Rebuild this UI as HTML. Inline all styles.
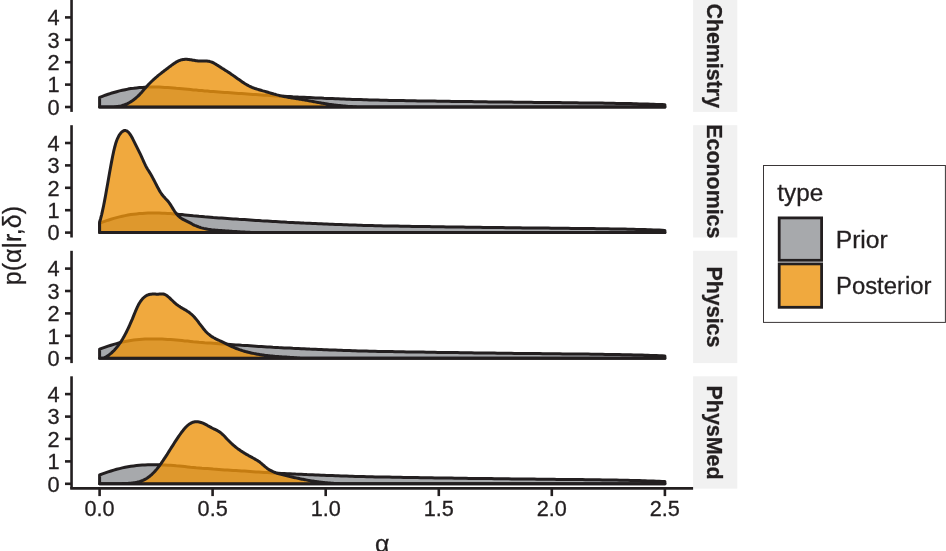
<!DOCTYPE html>
<html lang="en"><head><meta charset="utf-8">
<style>html,body{margin:0;padding:0;background:#fff}svg{display:block}text{font-family:"Liberation Sans",sans-serif;fill:#231f20;stroke:#231f20;stroke-width:0.3px}</style></head><body>
<svg width="946" height="551" viewBox="0 0 946 551">
<rect width="946" height="551" fill="#fff"/>
<rect x="693.1" y="-0.4" width="44.2" height="112.3" fill="#f1f1f1"/>
<text transform="translate(706.80 55.75) rotate(90) scale(0.955 1.000)" text-anchor="middle" font-size="22.4" font-weight="bold">Chemistry</text>
<path d="M99.6 107.0 L99.6 97.4 L102.4 96.3 L105.3 95.2 L108.1 94.3 L111.0 93.3 L113.8 92.5 L116.6 91.7 L119.5 90.9 L122.3 90.3 L125.2 89.7 L128.0 89.1 L130.8 88.6 L133.7 88.3 L136.5 87.9 L139.4 87.6 L142.2 87.4 L145.0 87.2 L147.9 87.1 L150.7 87.1 L153.6 87.1 L156.4 87.1 L159.2 87.1 L162.1 87.2 L164.9 87.4 L167.8 87.5 L170.6 87.7 L173.5 87.9 L176.3 88.2 L179.1 88.4 L182.0 88.7 L184.8 89.0 L187.7 89.3 L190.5 89.6 L193.3 89.9 L196.2 90.1 L199.0 90.4 L201.9 90.6 L204.7 90.9 L207.5 91.1 L210.4 91.4 L213.2 91.6 L216.1 91.8 L218.9 92.0 L221.7 92.2 L224.6 92.4 L227.4 92.6 L230.3 92.8 L233.1 93.0 L235.9 93.2 L238.8 93.4 L241.6 93.6 L244.5 93.8 L247.3 94.0 L250.1 94.2 L253.0 94.4 L255.8 94.6 L258.7 94.8 L261.5 95.0 L264.3 95.2 L267.2 95.3 L270.0 95.5 L272.9 95.7 L275.7 95.9 L278.5 96.0 L281.4 96.2 L284.2 96.3 L287.1 96.5 L289.9 96.6 L292.8 96.8 L295.6 96.9 L298.4 97.1 L301.3 97.2 L304.1 97.3 L307.0 97.5 L309.8 97.6 L312.6 97.7 L315.5 97.9 L318.3 98.0 L321.2 98.1 L324.0 98.3 L326.8 98.4 L329.7 98.5 L332.5 98.6 L335.4 98.7 L338.2 98.8 L341.0 98.9 L343.9 99.0 L346.7 99.2 L349.6 99.3 L352.4 99.4 L355.2 99.5 L358.1 99.6 L360.9 99.6 L363.8 99.7 L366.6 99.8 L369.4 99.9 L372.3 100.0 L375.1 100.1 L378.0 100.1 L380.8 100.2 L383.6 100.3 L386.5 100.3 L389.3 100.4 L392.2 100.4 L395.0 100.5 L397.8 100.5 L400.7 100.6 L403.5 100.6 L406.4 100.7 L409.2 100.7 L412.0 100.8 L414.9 100.8 L417.7 100.9 L420.6 100.9 L423.4 100.9 L426.3 101.0 L429.1 101.0 L431.9 101.1 L434.8 101.1 L437.6 101.2 L440.5 101.2 L443.3 101.2 L446.1 101.3 L449.0 101.3 L451.8 101.4 L454.7 101.4 L457.5 101.4 L460.3 101.5 L463.2 101.5 L466.0 101.6 L468.9 101.6 L471.7 101.6 L474.5 101.7 L477.4 101.7 L480.2 101.7 L483.1 101.8 L485.9 101.8 L488.7 101.9 L491.6 101.9 L494.4 101.9 L497.3 102.0 L500.1 102.0 L502.9 102.0 L505.8 102.1 L508.6 102.1 L511.5 102.1 L514.3 102.2 L517.1 102.2 L520.0 102.2 L522.8 102.3 L525.7 102.3 L528.5 102.3 L531.3 102.3 L534.2 102.4 L537.0 102.4 L539.9 102.4 L542.7 102.5 L545.6 102.5 L548.4 102.5 L551.2 102.6 L554.1 102.6 L556.9 102.6 L559.8 102.6 L562.6 102.7 L565.4 102.7 L568.3 102.7 L571.1 102.8 L574.0 102.8 L576.8 102.8 L579.6 102.9 L582.5 102.9 L585.3 102.9 L588.2 102.9 L591.0 103.0 L593.8 103.0 L596.7 103.1 L599.5 103.1 L602.4 103.1 L605.2 103.2 L608.0 103.2 L610.9 103.3 L613.7 103.3 L616.6 103.4 L619.4 103.4 L622.2 103.5 L625.1 103.5 L627.9 103.6 L630.8 103.6 L633.6 103.7 L636.4 103.8 L639.3 103.9 L642.1 103.9 L645.0 104.0 L647.8 104.1 L650.6 104.2 L653.5 104.3 L656.3 104.4 L659.2 104.5 L662.0 104.6 L664.9 104.8 L664.9 107.0 Z" fill="#a7a9ac" stroke="#231f20" stroke-width="3.0" stroke-linejoin="round"/>
<path d="M99.6 107.0 L110.0 107.0 L111.0 107.0 L112.0 107.0 L113.0 106.9 L114.0 106.9 L115.0 106.8 L116.0 106.7 L117.0 106.6 L118.0 106.5 L119.0 106.3 L120.0 106.1 L121.0 105.9 L122.0 105.6 L123.0 105.3 L124.0 105.0 L125.0 104.6 L126.0 104.2 L127.0 103.8 L128.0 103.3 L129.0 102.8 L130.0 102.2 L131.0 101.6 L132.0 101.0 L133.0 100.3 L134.0 99.5 L135.0 98.8 L136.0 97.9 L137.0 97.0 L138.0 96.1 L139.0 95.1 L140.0 94.1 L141.0 93.0 L142.0 91.9 L143.0 90.7 L144.0 89.6 L145.0 88.4 L146.0 87.3 L147.0 86.2 L148.0 85.1 L149.0 84.0 L150.0 83.0 L151.0 82.0 L152.0 81.0 L153.0 80.1 L154.0 79.2 L155.0 78.3 L156.0 77.4 L157.0 76.6 L158.0 75.7 L159.0 74.9 L160.0 74.1 L161.0 73.3 L162.0 72.5 L163.0 71.8 L164.0 71.0 L165.0 70.2 L166.0 69.5 L167.0 68.7 L168.0 68.0 L169.0 67.2 L170.0 66.4 L171.0 65.7 L172.0 64.9 L173.0 64.2 L174.0 63.5 L175.0 62.9 L176.0 62.2 L177.0 61.7 L178.0 61.1 L179.0 60.7 L180.0 60.3 L181.0 59.9 L182.0 59.7 L183.0 59.5 L184.0 59.4 L185.0 59.3 L186.0 59.3 L187.0 59.3 L188.0 59.4 L189.0 59.5 L190.0 59.7 L191.0 59.8 L192.0 60.0 L193.0 60.2 L194.0 60.3 L195.0 60.5 L196.0 60.7 L197.0 60.8 L198.0 60.9 L199.0 60.9 L200.0 61.0 L201.0 61.0 L202.0 61.0 L203.0 61.0 L204.0 61.0 L205.0 61.0 L206.0 61.0 L207.0 61.1 L208.0 61.2 L209.0 61.3 L210.0 61.6 L211.0 61.9 L212.0 62.2 L213.0 62.7 L214.0 63.2 L215.0 63.8 L216.0 64.4 L217.0 65.0 L218.0 65.6 L219.0 66.3 L220.0 66.9 L221.0 67.5 L222.0 68.2 L223.0 68.8 L224.0 69.4 L225.0 70.1 L226.0 70.7 L227.0 71.3 L228.0 72.0 L229.0 72.6 L230.0 73.3 L231.0 74.0 L232.0 74.7 L233.0 75.3 L234.0 76.1 L235.0 76.8 L236.0 77.5 L237.0 78.2 L238.0 78.9 L239.0 79.6 L240.0 80.3 L241.0 81.0 L242.0 81.7 L243.0 82.4 L244.0 83.0 L245.0 83.7 L246.0 84.3 L247.0 84.9 L248.0 85.4 L249.0 86.0 L250.0 86.5 L251.0 86.9 L252.0 87.4 L253.0 87.8 L254.0 88.1 L255.0 88.5 L256.0 88.8 L257.0 89.1 L258.0 89.4 L259.0 89.7 L260.0 90.0 L261.0 90.3 L262.0 90.6 L263.0 90.9 L264.0 91.1 L265.0 91.4 L266.0 91.7 L267.0 92.0 L268.0 92.3 L269.0 92.6 L270.0 92.9 L271.0 93.2 L272.0 93.5 L273.0 93.8 L274.0 94.1 L275.0 94.3 L276.0 94.6 L277.0 94.9 L278.0 95.1 L279.0 95.4 L280.0 95.7 L281.0 95.9 L282.0 96.1 L283.0 96.3 L284.0 96.6 L285.0 96.7 L286.0 96.9 L287.0 97.1 L288.0 97.3 L289.0 97.5 L290.0 97.6 L291.0 97.8 L292.0 97.9 L293.0 98.1 L294.0 98.2 L295.0 98.4 L296.0 98.5 L297.0 98.7 L298.0 98.8 L299.0 99.0 L300.0 99.2 L301.0 99.3 L302.0 99.5 L303.0 99.7 L304.0 99.8 L305.0 100.0 L306.0 100.2 L307.0 100.4 L308.0 100.6 L309.0 100.8 L310.0 100.9 L311.0 101.1 L312.0 101.3 L313.0 101.5 L314.0 101.7 L315.0 101.9 L316.0 102.1 L317.0 102.3 L318.0 102.4 L319.0 102.6 L320.0 102.8 L321.0 103.0 L322.0 103.2 L323.0 103.3 L324.0 103.5 L325.0 103.6 L326.0 103.8 L327.0 104.0 L328.0 104.1 L329.0 104.3 L330.0 104.4 L331.0 104.5 L332.0 104.7 L333.0 104.8 L334.0 104.9 L335.0 105.1 L336.0 105.2 L337.0 105.3 L338.0 105.4 L339.0 105.5 L340.0 105.6 L341.0 105.7 L342.0 105.8 L343.0 105.9 L344.0 106.0 L345.0 106.1 L346.0 106.2 L347.0 106.3 L348.0 106.4 L349.0 106.4 L350.0 106.5 L351.0 106.6 L352.0 106.6 L353.0 106.7 L354.0 106.7 L355.0 106.8 L356.0 106.8 L357.0 106.9 L358.0 106.9 L359.0 107.0 L360.0 107.0 L360.0 107.0 L664.9 107.0 Z" fill="#ec940e" fill-opacity="0.8" stroke="#231f20" stroke-width="3.0" stroke-linejoin="round"/>
<line x1="71.55" y1="-0.4" x2="71.55" y2="111.9" stroke="#231f20" stroke-width="2.6"/>
<line x1="65" y1="107.0" x2="71.5" y2="107.0" stroke="#231f20" stroke-width="2.6"/>
<text transform="translate(59.60 114.80) scale(0.990 1.000)" text-anchor="end" font-size="22">0</text>
<line x1="65" y1="84.6" x2="71.5" y2="84.6" stroke="#231f20" stroke-width="2.6"/>
<text transform="translate(59.60 92.40) scale(0.990 1.000)" text-anchor="end" font-size="22">1</text>
<line x1="65" y1="62.2" x2="71.5" y2="62.2" stroke="#231f20" stroke-width="2.6"/>
<text transform="translate(59.60 70.00) scale(0.990 1.000)" text-anchor="end" font-size="22">2</text>
<line x1="65" y1="39.8" x2="71.5" y2="39.8" stroke="#231f20" stroke-width="2.6"/>
<text transform="translate(59.60 47.60) scale(0.990 1.000)" text-anchor="end" font-size="22">3</text>
<line x1="65" y1="17.4" x2="71.5" y2="17.4" stroke="#231f20" stroke-width="2.6"/>
<text transform="translate(59.60 25.20) scale(0.990 1.000)" text-anchor="end" font-size="22">4</text>
<rect x="693.1" y="125.2" width="44.2" height="112.3" fill="#f1f1f1"/>
<text transform="translate(706.80 181.35) rotate(90) scale(0.955 1.000)" text-anchor="middle" font-size="22.4" font-weight="bold">Economics</text>
<path d="M99.6 232.6 L99.6 223.3 L102.4 222.2 L105.3 221.2 L108.1 220.2 L111.0 219.3 L113.8 218.4 L116.6 217.6 L119.5 216.9 L122.3 216.2 L125.2 215.6 L128.0 215.0 L130.8 214.6 L133.7 214.2 L136.5 213.9 L139.4 213.6 L142.2 213.4 L145.0 213.2 L147.9 213.1 L150.7 213.1 L153.6 213.0 L156.4 213.0 L159.2 213.1 L162.1 213.2 L164.9 213.3 L167.8 213.5 L170.6 213.6 L173.5 213.9 L176.3 214.1 L179.1 214.4 L182.0 214.6 L184.8 214.9 L187.7 215.2 L190.5 215.5 L193.3 215.8 L196.2 216.0 L199.0 216.3 L201.9 216.5 L204.7 216.8 L207.5 217.0 L210.4 217.2 L213.2 217.5 L216.1 217.7 L218.9 217.9 L221.7 218.1 L224.6 218.3 L227.4 218.5 L230.3 218.7 L233.1 218.9 L235.9 219.1 L238.8 219.3 L241.6 219.4 L244.5 219.6 L247.3 219.8 L250.1 220.0 L253.0 220.2 L255.8 220.4 L258.7 220.6 L261.5 220.8 L264.3 220.9 L267.2 221.1 L270.0 221.3 L272.9 221.5 L275.7 221.6 L278.5 221.8 L281.4 222.0 L284.2 222.1 L287.1 222.3 L289.9 222.4 L292.8 222.5 L295.6 222.7 L298.4 222.8 L301.3 222.9 L304.1 223.1 L307.0 223.2 L309.8 223.3 L312.6 223.5 L315.5 223.6 L318.3 223.7 L321.2 223.8 L324.0 224.0 L326.8 224.1 L329.7 224.2 L332.5 224.3 L335.4 224.4 L338.2 224.5 L341.0 224.6 L343.9 224.7 L346.7 224.8 L349.6 224.9 L352.4 225.0 L355.2 225.1 L358.1 225.2 L360.9 225.3 L363.8 225.4 L366.6 225.5 L369.4 225.5 L372.3 225.6 L375.1 225.7 L378.0 225.8 L380.8 225.8 L383.6 225.9 L386.5 225.9 L389.3 226.0 L392.2 226.0 L395.0 226.1 L397.8 226.1 L400.7 226.2 L403.5 226.2 L406.4 226.3 L409.2 226.3 L412.0 226.4 L414.9 226.4 L417.7 226.5 L420.6 226.5 L423.4 226.5 L426.3 226.6 L429.1 226.6 L431.9 226.7 L434.8 226.7 L437.6 226.8 L440.5 226.8 L443.3 226.8 L446.1 226.9 L449.0 226.9 L451.8 227.0 L454.7 227.0 L457.5 227.0 L460.3 227.1 L463.2 227.1 L466.0 227.2 L468.9 227.2 L471.7 227.2 L474.5 227.3 L477.4 227.3 L480.2 227.3 L483.1 227.4 L485.9 227.4 L488.7 227.5 L491.6 227.5 L494.4 227.5 L497.3 227.6 L500.1 227.6 L502.9 227.6 L505.8 227.7 L508.6 227.7 L511.5 227.7 L514.3 227.8 L517.1 227.8 L520.0 227.8 L522.8 227.9 L525.7 227.9 L528.5 227.9 L531.3 227.9 L534.2 228.0 L537.0 228.0 L539.9 228.0 L542.7 228.1 L545.6 228.1 L548.4 228.1 L551.2 228.2 L554.1 228.2 L556.9 228.2 L559.8 228.2 L562.6 228.3 L565.4 228.3 L568.3 228.3 L571.1 228.4 L574.0 228.4 L576.8 228.4 L579.6 228.5 L582.5 228.5 L585.3 228.5 L588.2 228.5 L591.0 228.6 L593.8 228.6 L596.7 228.7 L599.5 228.7 L602.4 228.7 L605.2 228.8 L608.0 228.8 L610.9 228.9 L613.7 228.9 L616.6 229.0 L619.4 229.0 L622.2 229.1 L625.1 229.1 L627.9 229.2 L630.8 229.2 L633.6 229.3 L636.4 229.4 L639.3 229.5 L642.1 229.5 L645.0 229.6 L647.8 229.7 L650.6 229.8 L653.5 229.9 L656.3 230.0 L659.2 230.1 L662.0 230.2 L664.9 230.4 L664.9 232.6 Z" fill="#a7a9ac" stroke="#231f20" stroke-width="3.0" stroke-linejoin="round"/>
<path d="M99.6 232.6 L99.6 222.0 L100.6 218.7 L101.6 214.8 L102.6 210.4 L103.6 205.7 L104.6 200.6 L105.6 195.2 L106.6 189.6 L107.6 183.9 L108.6 178.2 L109.6 172.5 L110.6 166.9 L111.6 161.6 L112.6 156.5 L113.6 151.7 L114.6 147.5 L115.6 143.8 L116.6 140.8 L117.6 138.3 L118.6 136.3 L119.6 134.6 L120.6 133.3 L121.6 132.1 L122.6 131.3 L123.6 130.8 L124.6 130.5 L125.6 130.6 L126.6 130.9 L127.6 131.5 L128.6 132.4 L129.6 133.6 L130.6 135.1 L131.6 136.8 L132.6 138.6 L133.6 140.6 L134.6 142.6 L135.6 144.7 L136.6 146.7 L137.6 148.7 L138.6 150.7 L139.6 152.7 L140.6 154.7 L141.6 156.8 L142.6 159.0 L143.6 161.3 L144.6 163.5 L145.6 165.6 L146.6 167.5 L147.6 169.2 L148.6 170.8 L149.6 172.4 L150.6 174.0 L151.6 175.7 L152.6 177.6 L153.6 179.5 L154.6 181.4 L155.6 183.4 L156.6 185.3 L157.6 187.3 L158.6 189.1 L159.6 190.9 L160.6 192.5 L161.6 194.0 L162.6 195.3 L163.6 196.5 L164.6 197.6 L165.6 198.7 L166.6 199.7 L167.6 200.8 L168.6 202.0 L169.6 203.4 L170.6 204.9 L171.6 206.5 L172.6 208.1 L173.6 209.7 L174.6 211.3 L175.6 212.7 L176.6 214.0 L177.6 215.1 L178.6 216.1 L179.6 217.0 L180.6 217.8 L181.6 218.5 L182.6 219.1 L183.6 219.7 L184.6 220.2 L185.6 220.7 L186.6 221.2 L187.6 221.7 L188.6 222.2 L189.6 222.7 L190.6 223.2 L191.6 223.7 L192.6 224.3 L193.6 224.8 L194.6 225.3 L195.6 225.7 L196.6 226.1 L197.6 226.5 L198.6 226.9 L199.6 227.2 L200.6 227.6 L201.6 227.9 L202.6 228.1 L203.6 228.4 L204.6 228.6 L205.6 228.8 L206.6 229.0 L207.6 229.2 L208.6 229.4 L209.6 229.5 L210.6 229.6 L211.6 229.8 L212.6 229.9 L213.6 230.0 L214.6 230.1 L215.6 230.2 L216.6 230.2 L217.6 230.3 L218.6 230.4 L219.6 230.5 L220.6 230.5 L221.6 230.6 L222.6 230.7 L223.6 230.7 L224.6 230.8 L225.6 230.9 L226.6 231.0 L227.6 231.0 L228.6 231.1 L229.6 231.2 L230.6 231.2 L231.6 231.3 L232.6 231.4 L233.6 231.5 L234.6 231.5 L235.6 231.6 L236.6 231.6 L237.6 231.7 L238.6 231.8 L239.6 231.8 L240.6 231.9 L241.6 232.0 L242.6 232.0 L243.6 232.1 L244.6 232.1 L245.6 232.2 L246.6 232.2 L247.6 232.2 L248.6 232.3 L249.6 232.3 L250.6 232.4 L251.6 232.4 L252.6 232.4 L253.6 232.4 L254.6 232.5 L255.6 232.5 L256.0 232.6 L664.9 232.6 Z" fill="#ec940e" fill-opacity="0.8" stroke="#231f20" stroke-width="3.0" stroke-linejoin="round"/>
<line x1="71.55" y1="125.2" x2="71.55" y2="237.5" stroke="#231f20" stroke-width="2.6"/>
<line x1="65" y1="232.6" x2="71.5" y2="232.6" stroke="#231f20" stroke-width="2.6"/>
<text transform="translate(59.60 240.40) scale(0.990 1.000)" text-anchor="end" font-size="22">0</text>
<line x1="65" y1="210.2" x2="71.5" y2="210.2" stroke="#231f20" stroke-width="2.6"/>
<text transform="translate(59.60 218.00) scale(0.990 1.000)" text-anchor="end" font-size="22">1</text>
<line x1="65" y1="187.8" x2="71.5" y2="187.8" stroke="#231f20" stroke-width="2.6"/>
<text transform="translate(59.60 195.60) scale(0.990 1.000)" text-anchor="end" font-size="22">2</text>
<line x1="65" y1="165.4" x2="71.5" y2="165.4" stroke="#231f20" stroke-width="2.6"/>
<text transform="translate(59.60 173.20) scale(0.990 1.000)" text-anchor="end" font-size="22">3</text>
<line x1="65" y1="143.0" x2="71.5" y2="143.0" stroke="#231f20" stroke-width="2.6"/>
<text transform="translate(59.60 150.80) scale(0.990 1.000)" text-anchor="end" font-size="22">4</text>
<rect x="693.1" y="250.8" width="44.2" height="112.3" fill="#f1f1f1"/>
<text transform="translate(706.80 306.95) rotate(90) scale(0.955 1.000)" text-anchor="middle" font-size="22.4" font-weight="bold">Physics</text>
<path d="M99.6 358.2 L99.6 349.2 L102.4 348.1 L105.3 347.1 L108.1 346.1 L111.0 345.2 L113.8 344.4 L116.6 343.6 L119.5 342.8 L122.3 342.1 L125.2 341.5 L128.0 341.0 L130.8 340.5 L133.7 340.1 L136.5 339.8 L139.4 339.5 L142.2 339.3 L145.0 339.1 L147.9 339.0 L150.7 339.0 L153.6 339.0 L156.4 339.0 L159.2 339.0 L162.1 339.1 L164.9 339.2 L167.8 339.4 L170.6 339.6 L173.5 339.8 L176.3 340.0 L179.1 340.3 L182.0 340.6 L184.8 340.9 L187.7 341.1 L190.5 341.4 L193.3 341.7 L196.2 341.9 L199.0 342.2 L201.9 342.4 L204.7 342.7 L207.5 342.9 L210.4 343.1 L213.2 343.3 L216.1 343.5 L218.9 343.7 L221.7 343.9 L224.6 344.1 L227.4 344.3 L230.3 344.5 L233.1 344.7 L235.9 344.9 L238.8 345.1 L241.6 345.3 L244.5 345.4 L247.3 345.6 L250.1 345.8 L253.0 346.0 L255.8 346.2 L258.7 346.4 L261.5 346.5 L264.3 346.7 L267.2 346.9 L270.0 347.1 L272.9 347.3 L275.7 347.4 L278.5 347.6 L281.4 347.7 L284.2 347.9 L287.1 348.0 L289.9 348.1 L292.8 348.3 L295.6 348.4 L298.4 348.5 L301.3 348.7 L304.1 348.8 L307.0 348.9 L309.8 349.1 L312.6 349.2 L315.5 349.3 L318.3 349.4 L321.2 349.5 L324.0 349.7 L326.8 349.8 L329.7 349.9 L332.5 350.0 L335.4 350.1 L338.2 350.2 L341.0 350.3 L343.9 350.4 L346.7 350.5 L349.6 350.6 L352.4 350.7 L355.2 350.8 L358.1 350.9 L360.9 350.9 L363.8 351.0 L366.6 351.1 L369.4 351.2 L372.3 351.3 L375.1 351.3 L378.0 351.4 L380.8 351.4 L383.6 351.5 L386.5 351.5 L389.3 351.6 L392.2 351.6 L395.0 351.7 L397.8 351.7 L400.7 351.8 L403.5 351.8 L406.4 351.9 L409.2 351.9 L412.0 352.0 L414.9 352.0 L417.7 352.1 L420.6 352.1 L423.4 352.1 L426.3 352.2 L429.1 352.2 L431.9 352.3 L434.8 352.3 L437.6 352.4 L440.5 352.4 L443.3 352.4 L446.1 352.5 L449.0 352.5 L451.8 352.6 L454.7 352.6 L457.5 352.6 L460.3 352.7 L463.2 352.7 L466.0 352.8 L468.9 352.8 L471.7 352.8 L474.5 352.9 L477.4 352.9 L480.2 352.9 L483.1 353.0 L485.9 353.0 L488.7 353.1 L491.6 353.1 L494.4 353.1 L497.3 353.2 L500.1 353.2 L502.9 353.2 L505.8 353.3 L508.6 353.3 L511.5 353.3 L514.3 353.4 L517.1 353.4 L520.0 353.4 L522.8 353.5 L525.7 353.5 L528.5 353.5 L531.3 353.5 L534.2 353.6 L537.0 353.6 L539.9 353.6 L542.7 353.7 L545.6 353.7 L548.4 353.7 L551.2 353.8 L554.1 353.8 L556.9 353.8 L559.8 353.8 L562.6 353.9 L565.4 353.9 L568.3 353.9 L571.1 354.0 L574.0 354.0 L576.8 354.0 L579.6 354.1 L582.5 354.1 L585.3 354.1 L588.2 354.1 L591.0 354.2 L593.8 354.2 L596.7 354.3 L599.5 354.3 L602.4 354.3 L605.2 354.4 L608.0 354.4 L610.9 354.5 L613.7 354.5 L616.6 354.6 L619.4 354.6 L622.2 354.7 L625.1 354.7 L627.9 354.8 L630.8 354.8 L633.6 354.9 L636.4 355.0 L639.3 355.1 L642.1 355.1 L645.0 355.2 L647.8 355.3 L650.6 355.4 L653.5 355.5 L656.3 355.6 L659.2 355.7 L662.0 355.8 L664.9 356.0 L664.9 358.2 Z" fill="#a7a9ac" stroke="#231f20" stroke-width="3.0" stroke-linejoin="round"/>
<path d="M99.6 358.2 L103.3 358.2 L104.3 357.9 L105.3 357.3 L106.3 356.7 L107.3 356.1 L108.3 355.4 L109.3 354.7 L110.3 353.9 L111.3 353.1 L112.3 352.1 L113.3 351.2 L114.3 350.2 L115.3 349.1 L116.3 347.9 L117.3 346.7 L118.3 345.4 L119.3 344.0 L120.3 342.6 L121.3 341.1 L122.3 339.5 L123.3 337.8 L124.3 336.0 L125.3 334.1 L126.3 332.2 L127.3 330.2 L128.3 328.1 L129.3 326.0 L130.3 323.7 L131.3 321.4 L132.3 319.1 L133.3 316.6 L134.3 314.2 L135.3 311.7 L136.3 309.4 L137.3 307.2 L138.3 305.1 L139.3 303.3 L140.3 301.7 L141.3 300.3 L142.3 299.1 L143.3 298.0 L144.3 297.1 L145.3 296.3 L146.3 295.7 L147.3 295.2 L148.3 294.8 L149.3 294.5 L150.3 294.3 L151.3 294.2 L152.3 294.1 L153.3 294.1 L154.3 294.1 L155.3 294.1 L156.3 294.2 L157.3 294.2 L158.3 294.2 L159.3 294.1 L160.3 294.0 L161.3 294.0 L162.3 294.0 L163.3 294.0 L164.3 294.3 L165.3 294.7 L166.3 295.3 L167.3 296.0 L168.3 296.8 L169.3 297.6 L170.3 298.6 L171.3 299.6 L172.3 300.5 L173.3 301.5 L174.3 302.5 L175.3 303.3 L176.3 304.2 L177.3 304.9 L178.3 305.7 L179.3 306.3 L180.3 307.0 L181.3 307.6 L182.3 308.2 L183.3 308.8 L184.3 309.4 L185.3 309.9 L186.3 310.5 L187.3 311.2 L188.3 311.8 L189.3 312.5 L190.3 313.3 L191.3 314.1 L192.3 315.0 L193.3 316.0 L194.3 317.0 L195.3 318.2 L196.3 319.4 L197.3 320.6 L198.3 321.9 L199.3 323.3 L200.3 324.6 L201.3 325.9 L202.3 327.2 L203.3 328.5 L204.3 329.7 L205.3 330.9 L206.3 332.0 L207.3 333.0 L208.3 333.9 L209.3 334.7 L210.3 335.5 L211.3 336.2 L212.3 336.9 L213.3 337.5 L214.3 338.0 L215.3 338.6 L216.3 339.1 L217.3 339.6 L218.3 340.0 L219.3 340.5 L220.3 341.0 L221.3 341.4 L222.3 341.9 L223.3 342.4 L224.3 342.9 L225.3 343.4 L226.3 343.9 L227.3 344.4 L228.3 344.9 L229.3 345.4 L230.3 345.9 L231.3 346.4 L232.3 346.8 L233.3 347.2 L234.3 347.7 L235.3 348.1 L236.3 348.5 L237.3 348.8 L238.3 349.2 L239.3 349.6 L240.3 349.9 L241.3 350.2 L242.3 350.6 L243.3 350.9 L244.3 351.2 L245.3 351.5 L246.3 351.7 L247.3 352.0 L248.3 352.3 L249.3 352.5 L250.3 352.7 L251.3 353.0 L252.3 353.2 L253.3 353.4 L254.3 353.6 L255.3 353.8 L256.3 354.0 L257.3 354.2 L258.3 354.3 L259.3 354.5 L260.3 354.7 L261.3 354.8 L262.3 355.0 L263.3 355.1 L264.3 355.2 L265.3 355.4 L266.3 355.5 L267.3 355.6 L268.3 355.7 L269.3 355.8 L270.3 355.9 L271.3 356.0 L272.3 356.1 L273.3 356.2 L274.3 356.3 L275.3 356.4 L276.3 356.4 L277.3 356.5 L278.3 356.6 L279.3 356.7 L280.3 356.7 L281.3 356.8 L282.3 356.9 L283.3 356.9 L284.3 357.0 L285.3 357.1 L286.3 357.1 L287.3 357.2 L288.3 357.3 L289.3 357.3 L290.3 357.4 L291.3 357.5 L292.3 357.5 L293.3 357.6 L294.3 357.7 L295.3 357.7 L296.3 357.8 L297.3 357.9 L298.3 357.9 L299.3 358.0 L300.0 358.2 L664.9 358.2 Z" fill="#ec940e" fill-opacity="0.8" stroke="#231f20" stroke-width="3.0" stroke-linejoin="round"/>
<line x1="71.55" y1="250.8" x2="71.55" y2="363.1" stroke="#231f20" stroke-width="2.6"/>
<line x1="65" y1="358.2" x2="71.5" y2="358.2" stroke="#231f20" stroke-width="2.6"/>
<text transform="translate(59.60 366.00) scale(0.990 1.000)" text-anchor="end" font-size="22">0</text>
<line x1="65" y1="335.8" x2="71.5" y2="335.8" stroke="#231f20" stroke-width="2.6"/>
<text transform="translate(59.60 343.60) scale(0.990 1.000)" text-anchor="end" font-size="22">1</text>
<line x1="65" y1="313.4" x2="71.5" y2="313.4" stroke="#231f20" stroke-width="2.6"/>
<text transform="translate(59.60 321.20) scale(0.990 1.000)" text-anchor="end" font-size="22">2</text>
<line x1="65" y1="291.0" x2="71.5" y2="291.0" stroke="#231f20" stroke-width="2.6"/>
<text transform="translate(59.60 298.80) scale(0.990 1.000)" text-anchor="end" font-size="22">3</text>
<line x1="65" y1="268.6" x2="71.5" y2="268.6" stroke="#231f20" stroke-width="2.6"/>
<text transform="translate(59.60 276.40) scale(0.990 1.000)" text-anchor="end" font-size="22">4</text>
<rect x="693.1" y="376.3" width="44.2" height="112.3" fill="#f1f1f1"/>
<text transform="translate(706.80 432.50) rotate(90) scale(0.955 1.000)" text-anchor="middle" font-size="22.4" font-weight="bold">PhysMed</text>
<path d="M99.6 483.8 L99.6 475.0 L102.4 473.9 L105.3 472.9 L108.1 471.9 L111.0 471.0 L113.8 470.1 L116.6 469.3 L119.5 468.6 L122.3 467.9 L125.2 467.3 L128.0 466.8 L130.8 466.3 L133.7 465.9 L136.5 465.6 L139.4 465.3 L142.2 465.1 L145.0 464.9 L147.9 464.8 L150.7 464.8 L153.6 464.8 L156.4 464.8 L159.2 464.8 L162.1 464.9 L164.9 465.0 L167.8 465.2 L170.6 465.3 L173.5 465.5 L176.3 465.8 L179.1 466.0 L182.0 466.3 L184.8 466.6 L187.7 466.9 L190.5 467.2 L193.3 467.4 L196.2 467.7 L199.0 467.9 L201.9 468.2 L204.7 468.4 L207.5 468.6 L210.4 468.8 L213.2 469.1 L216.1 469.3 L218.9 469.5 L221.7 469.7 L224.6 469.9 L227.4 470.0 L230.3 470.2 L233.1 470.4 L235.9 470.6 L238.8 470.8 L241.6 471.0 L244.5 471.1 L247.3 471.3 L250.1 471.5 L253.0 471.7 L255.8 471.9 L258.7 472.0 L261.5 472.2 L264.3 472.4 L267.2 472.6 L270.0 472.8 L272.9 472.9 L275.7 473.1 L278.5 473.2 L281.4 473.4 L284.2 473.5 L287.1 473.7 L289.9 473.8 L292.8 473.9 L295.6 474.1 L298.4 474.2 L301.3 474.3 L304.1 474.4 L307.0 474.6 L309.8 474.7 L312.6 474.8 L315.5 474.9 L318.3 475.0 L321.2 475.2 L324.0 475.3 L326.8 475.4 L329.7 475.5 L332.5 475.6 L335.4 475.7 L338.2 475.8 L341.0 475.9 L343.9 476.0 L346.7 476.1 L349.6 476.2 L352.4 476.3 L355.2 476.4 L358.1 476.4 L360.9 476.5 L363.8 476.6 L366.6 476.7 L369.4 476.8 L372.3 476.8 L375.1 476.9 L378.0 476.9 L380.8 477.0 L383.6 477.1 L386.5 477.1 L389.3 477.1 L392.2 477.2 L395.0 477.2 L397.8 477.3 L400.7 477.3 L403.5 477.4 L406.4 477.4 L409.2 477.5 L412.0 477.5 L414.9 477.6 L417.7 477.6 L420.6 477.7 L423.4 477.7 L426.3 477.7 L429.1 477.8 L431.9 477.8 L434.8 477.9 L437.6 477.9 L440.5 478.0 L443.3 478.0 L446.1 478.0 L449.0 478.1 L451.8 478.1 L454.7 478.2 L457.5 478.2 L460.3 478.2 L463.2 478.3 L466.0 478.3 L468.9 478.4 L471.7 478.4 L474.5 478.4 L477.4 478.5 L480.2 478.5 L483.1 478.5 L485.9 478.6 L488.7 478.6 L491.6 478.6 L494.4 478.7 L497.3 478.7 L500.1 478.7 L502.9 478.8 L505.8 478.8 L508.6 478.8 L511.5 478.9 L514.3 478.9 L517.1 478.9 L520.0 479.0 L522.8 479.0 L525.7 479.0 L528.5 479.1 L531.3 479.1 L534.2 479.1 L537.0 479.2 L539.9 479.2 L542.7 479.2 L545.6 479.2 L548.4 479.3 L551.2 479.3 L554.1 479.3 L556.9 479.4 L559.8 479.4 L562.6 479.4 L565.4 479.5 L568.3 479.5 L571.1 479.5 L574.0 479.5 L576.8 479.6 L579.6 479.6 L582.5 479.6 L585.3 479.7 L588.2 479.7 L591.0 479.7 L593.8 479.8 L596.7 479.8 L599.5 479.8 L602.4 479.9 L605.2 479.9 L608.0 480.0 L610.9 480.0 L613.7 480.1 L616.6 480.1 L619.4 480.2 L622.2 480.2 L625.1 480.3 L627.9 480.3 L630.8 480.4 L633.6 480.5 L636.4 480.5 L639.3 480.6 L642.1 480.7 L645.0 480.8 L647.8 480.9 L650.6 481.0 L653.5 481.1 L656.3 481.2 L659.2 481.3 L662.0 481.4 L664.9 481.5 L664.9 483.8 Z" fill="#a7a9ac" stroke="#231f20" stroke-width="3.0" stroke-linejoin="round"/>
<path d="M99.6 483.8 L121.0 483.8 L122.0 483.6 L123.0 483.6 L124.0 483.6 L125.0 483.5 L126.0 483.5 L127.0 483.5 L128.0 483.4 L129.0 483.3 L130.0 483.3 L131.0 483.2 L132.0 483.1 L133.0 483.0 L134.0 482.8 L135.0 482.7 L136.0 482.5 L137.0 482.3 L138.0 482.0 L139.0 481.8 L140.0 481.5 L141.0 481.1 L142.0 480.7 L143.0 480.3 L144.0 479.8 L145.0 479.3 L146.0 478.8 L147.0 478.2 L148.0 477.5 L149.0 476.8 L150.0 476.0 L151.0 475.2 L152.0 474.3 L153.0 473.3 L154.0 472.3 L155.0 471.2 L156.0 470.1 L157.0 468.9 L158.0 467.6 L159.0 466.3 L160.0 465.0 L161.0 463.6 L162.0 462.1 L163.0 460.7 L164.0 459.2 L165.0 457.7 L166.0 456.1 L167.0 454.6 L168.0 453.0 L169.0 451.4 L170.0 449.8 L171.0 448.2 L172.0 446.7 L173.0 445.1 L174.0 443.5 L175.0 441.9 L176.0 440.4 L177.0 438.9 L178.0 437.4 L179.0 435.9 L180.0 434.5 L181.0 433.1 L182.0 431.7 L183.0 430.5 L184.0 429.2 L185.0 428.1 L186.0 427.0 L187.0 426.0 L188.0 425.1 L189.0 424.3 L190.0 423.7 L191.0 423.1 L192.0 422.6 L193.0 422.2 L194.0 422.0 L195.0 421.8 L196.0 421.7 L197.0 421.7 L198.0 421.8 L199.0 421.9 L200.0 422.2 L201.0 422.5 L202.0 422.8 L203.0 423.2 L204.0 423.7 L205.0 424.2 L206.0 424.7 L207.0 425.2 L208.0 425.8 L209.0 426.3 L210.0 426.9 L211.0 427.4 L212.0 428.0 L213.0 428.5 L214.0 429.0 L215.0 429.4 L216.0 429.9 L217.0 430.4 L218.0 431.0 L219.0 431.6 L220.0 432.3 L221.0 433.0 L222.0 433.9 L223.0 434.8 L224.0 435.8 L225.0 436.8 L226.0 437.9 L227.0 439.0 L228.0 440.0 L229.0 441.0 L230.0 442.0 L231.0 443.0 L232.0 443.9 L233.0 444.8 L234.0 445.7 L235.0 446.5 L236.0 447.3 L237.0 448.1 L238.0 448.9 L239.0 449.6 L240.0 450.3 L241.0 451.0 L242.0 451.6 L243.0 452.3 L244.0 452.9 L245.0 453.5 L246.0 454.1 L247.0 454.7 L248.0 455.2 L249.0 455.8 L250.0 456.3 L251.0 456.9 L252.0 457.4 L253.0 458.0 L254.0 458.5 L255.0 459.1 L256.0 459.7 L257.0 460.3 L258.0 460.9 L259.0 461.6 L260.0 462.3 L261.0 463.1 L262.0 464.0 L263.0 464.8 L264.0 465.7 L265.0 466.6 L266.0 467.4 L267.0 468.2 L268.0 468.9 L269.0 469.6 L270.0 470.2 L271.0 470.7 L272.0 471.2 L273.0 471.7 L274.0 472.1 L275.0 472.5 L276.0 472.9 L277.0 473.2 L278.0 473.5 L279.0 473.8 L280.0 474.1 L281.0 474.3 L282.0 474.6 L283.0 474.8 L284.0 475.1 L285.0 475.3 L286.0 475.6 L287.0 475.8 L288.0 476.1 L289.0 476.3 L290.0 476.6 L291.0 476.8 L292.0 477.0 L293.0 477.2 L294.0 477.5 L295.0 477.7 L296.0 477.9 L297.0 478.1 L298.0 478.3 L299.0 478.5 L300.0 478.8 L301.0 479.0 L302.0 479.2 L303.0 479.3 L304.0 479.5 L305.0 479.7 L306.0 479.9 L307.0 480.1 L308.0 480.3 L309.0 480.4 L310.0 480.6 L311.0 480.8 L312.0 480.9 L313.0 481.1 L314.0 481.2 L315.0 481.4 L316.0 481.5 L317.0 481.7 L318.0 481.8 L319.0 481.9 L320.0 482.1 L321.0 482.2 L322.0 482.3 L323.0 482.4 L324.0 482.5 L325.0 482.7 L326.0 482.8 L327.0 482.8 L328.0 482.9 L329.0 483.0 L330.0 483.1 L331.0 483.2 L332.0 483.3 L333.0 483.3 L334.0 483.4 L335.0 483.4 L336.0 483.5 L337.0 483.5 L338.0 483.6 L339.0 483.6 L340.0 483.7 L341.0 483.7 L342.0 483.7 L343.0 483.7 L344.0 483.7 L345.0 483.7 L346.0 483.7 L347.0 483.7 L348.0 483.7 L349.0 483.7 L350.0 483.7 L350.0 483.8 L664.9 483.8 Z" fill="#ec940e" fill-opacity="0.8" stroke="#231f20" stroke-width="3.0" stroke-linejoin="round"/>
<line x1="71.55" y1="376.3" x2="71.55" y2="488.6" stroke="#231f20" stroke-width="2.6"/>
<line x1="65" y1="483.8" x2="71.5" y2="483.8" stroke="#231f20" stroke-width="2.6"/>
<text transform="translate(59.60 491.55) scale(0.990 1.000)" text-anchor="end" font-size="22">0</text>
<line x1="65" y1="461.4" x2="71.5" y2="461.4" stroke="#231f20" stroke-width="2.6"/>
<text transform="translate(59.60 469.15) scale(0.990 1.000)" text-anchor="end" font-size="22">1</text>
<line x1="65" y1="438.9" x2="71.5" y2="438.9" stroke="#231f20" stroke-width="2.6"/>
<text transform="translate(59.60 446.75) scale(0.990 1.000)" text-anchor="end" font-size="22">2</text>
<line x1="65" y1="416.6" x2="71.5" y2="416.6" stroke="#231f20" stroke-width="2.6"/>
<text transform="translate(59.60 424.35) scale(0.990 1.000)" text-anchor="end" font-size="22">3</text>
<line x1="65" y1="394.1" x2="71.5" y2="394.1" stroke="#231f20" stroke-width="2.6"/>
<text transform="translate(59.60 401.95) scale(0.990 1.000)" text-anchor="end" font-size="22">4</text>
<line x1="70.2" y1="488.4" x2="693.1" y2="488.4" stroke="#231f20" stroke-width="2.6"/>
<line x1="99.6" y1="488.4" x2="99.6" y2="496.1" stroke="#231f20" stroke-width="2.6"/>
<text transform="translate(99.60 516.10) scale(0.985 1.000)" text-anchor="middle" font-size="22">0.0</text>
<line x1="212.6" y1="488.4" x2="212.6" y2="496.1" stroke="#231f20" stroke-width="2.6"/>
<text transform="translate(212.65 516.10) scale(0.985 1.000)" text-anchor="middle" font-size="22">0.5</text>
<line x1="325.7" y1="488.4" x2="325.7" y2="496.1" stroke="#231f20" stroke-width="2.6"/>
<text transform="translate(325.70 516.10) scale(0.985 1.000)" text-anchor="middle" font-size="22">1.0</text>
<line x1="438.8" y1="488.4" x2="438.8" y2="496.1" stroke="#231f20" stroke-width="2.6"/>
<text transform="translate(438.75 516.10) scale(0.985 1.000)" text-anchor="middle" font-size="22">1.5</text>
<line x1="551.8" y1="488.4" x2="551.8" y2="496.1" stroke="#231f20" stroke-width="2.6"/>
<text transform="translate(551.80 516.10) scale(0.985 1.000)" text-anchor="middle" font-size="22">2.0</text>
<line x1="664.9" y1="488.4" x2="664.9" y2="496.1" stroke="#231f20" stroke-width="2.6"/>
<text transform="translate(664.85 516.10) scale(0.985 1.000)" text-anchor="middle" font-size="22">2.5</text>
<text transform="translate(382.20 551.80) scale(1.040 1.000)" text-anchor="middle" font-size="24">α</text>
<text transform="translate(20.80 245.60) rotate(-90) scale(0.980 1.000)" text-anchor="middle" font-size="25.5">p(α|r,δ)</text>
<rect x="763.5" y="165.5" width="181.9" height="156.9" fill="#fff" stroke="#3a3637" stroke-width="1"/>
<text transform="translate(777.30 200.70) scale(0.990 1.000)" text-anchor="start" font-size="24.5">type</text>
<rect x="779.2" y="217.9" width="42.4" height="42.4" fill="#a7a9ac" stroke="#231f20" stroke-width="2.8"/>
<rect x="779.2" y="263.9" width="42.4" height="43.4" fill="#f0a93e" stroke="#231f20" stroke-width="2.8"/>
<text transform="translate(835.70 247.90) scale(1.028 1.000)" text-anchor="start" font-size="24">Prior</text>
<text transform="translate(836.00 294.10) scale(0.994 1.000)" text-anchor="start" font-size="24">Posterior</text>
</svg></body></html>
